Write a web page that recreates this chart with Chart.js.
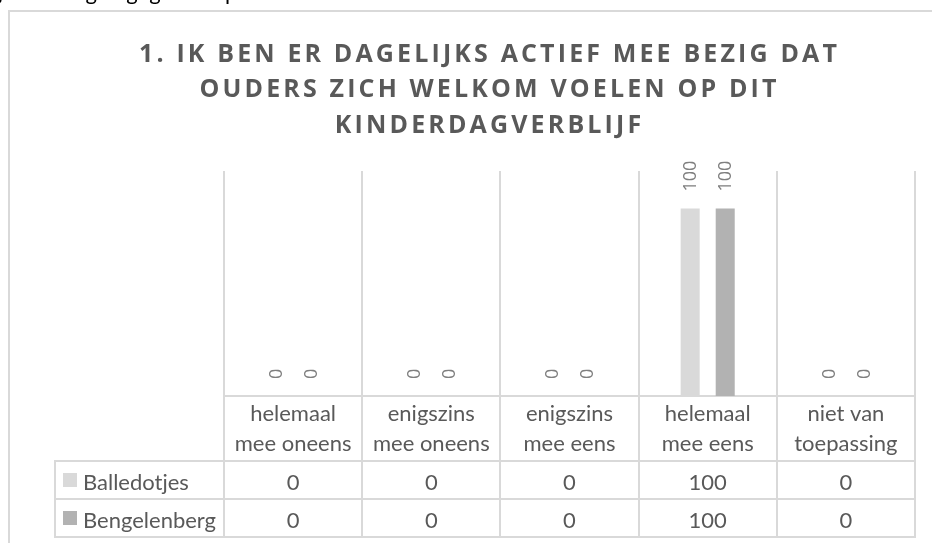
<!DOCTYPE html>
<html>
<head>
<meta charset="utf-8">
<script src="https://cdn.jsdelivr.net/npm/chart.js@4.4.1/dist/chart.umd.min.js"></script>
<style>
  html, body { margin: 0; padding: 0; background: #fff; overflow: hidden; }
  #wrap { position: relative; width: 932px; height: 543px; }
</style>
</head>
<body>
<div id="wrap"><canvas id="chart" width="932" height="543"></canvas></div>
<script>
// chart data
const titleLines = [
    '1. IK BEN ER DAGELIJKS ACTIEF MEE BEZIG DAT',
    'OUDERS ZICH WELKOM VOELEN OP DIT',
    'KINDERDAGVERBLIJF'
];
const categories = [
    ['helemaal', 'mee oneens'],
    ['enigszins', 'mee oneens'],
    ['enigszins', 'mee eens'],
    ['helemaal', 'mee eens'],
    ['niet van', 'toepassing']
];
const seriesNames = ['Balledotjes', 'Bengelenberg'];
const balledotjes = [0, 0, 0, 100, 0];
const bengelenberg = [0, 0, 0, 100, 0];
const seriesColors = ['#d9d9d9', '#b2b2b2'];
const yMax = 120;

const textColor = '#595959';
const lineColor = '#d9d9d9';

const excelTable = {
    id: 'excelTable',
    beforeDraw(chart) {
        const ctx = chart.ctx;
        ctx.save();
        // clipped line of document text above the chart
        ctx.fillStyle = '#000';
        ctx.font = '22px Lato';
        ctx.textBaseline = 'alphabetic';
        ctx.fillText('volgende vragen gegeven op', -38, 0);
        // outer frame of the chart object
        ctx.fillStyle = lineColor;
        ctx.fillRect(8, 10, 2, 600);
        ctx.fillRect(8, 10, 1000, 2);
        // title, spaced out like the office chart style
        ctx.fillStyle = textColor;
        ctx.font = 'bold 25px "Open Sans"';
        const plain = ctx.measureText(titleLines[0]).width;
        const spacing = (701 - plain) / titleLines[0].length;
        ctx.letterSpacing = spacing.toFixed(2) + 'px';
        ctx.textAlign = 'left';
        const baselines = [62, 97, 133];
        titleLines.forEach((line, i) => {
            const w = ctx.measureText(line).width - spacing;
            ctx.fillText(line, 488 - w / 2, baselines[i]);
        });
        ctx.restore();
    },
    afterDatasetsDraw(chart) {
        const ctx = chart.ctx;
        ctx.save();
        ctx.fillStyle = '#7f7f7f';
        ctx.font = '18px "Open Sans"';
        ctx.textAlign = 'left';
        ctx.textBaseline = 'middle';
        chart.data.datasets.forEach((ds, d) => {
            const meta = chart.getDatasetMeta(d);
            meta.data.forEach((bar, i) => {
                ctx.save();
                ctx.translate(bar.x, bar.y - 17);
                ctx.rotate(-Math.PI / 2);
                ctx.fillText(String(ds.data[i]), 0, 1);
                ctx.restore();
            });
        });
        ctx.restore();
    },
    afterDraw(chart) {
        const ctx = chart.ctx;
        const xs = chart.scales.x;
        const area = chart.chartArea;
        const half = (xs.getPixelForValue(1) - xs.getPixelForValue(0)) / 2;
        const bounds = categories.map((c, i) => xs.getPixelForValue(i) - half);
        bounds.push(xs.getPixelForValue(categories.length - 1) + half);

        const top = area.bottom;
        const headerH = 65;
        const rowH = 38;
        const labelLeft = 55;
        const bottom = top + headerH + rowH * seriesNames.length;

        ctx.save();
        ctx.fillStyle = lineColor;
        // vertical borders through the table
        bounds.forEach(x => ctx.fillRect(Math.round(x) - 1, top, 2, bottom - top + 1));
        ctx.fillRect(labelLeft - 1, top + headerH, 2, bottom - top - headerH + 1);
        // horizontal borders
        for (let r = 0; r <= seriesNames.length; r++) {
            const y = top + headerH + r * rowH;
            ctx.fillRect(labelLeft - 1, y - 1, bounds[bounds.length - 1] - labelLeft + 2, 2);
        }

        // category header
        ctx.fillStyle = textColor;
        ctx.font = '22px Lato';
        ctx.textAlign = 'center';
        ctx.textBaseline = 'alphabetic';
        categories.forEach((lines, i) => {
            const cx = xs.getPixelForValue(i);
            lines.forEach((t, k) => ctx.fillText(t, cx, top + 25 + k * 30));
        });

        // data rows
        const rows = [balledotjes, bengelenberg];
        rows.forEach((vals, r) => {
            const yBase = top + headerH + r * rowH + 29;
            ctx.textAlign = 'center';
            ctx.fillStyle = textColor;
            vals.forEach((v, i) => ctx.fillText(String(v), xs.getPixelForValue(i), yBase));
            // legend key + series name
            ctx.fillStyle = seriesColors[r];
            ctx.fillRect(63, top + headerH + r * rowH + 12, 14, 14);
            ctx.fillStyle = textColor;
            ctx.textAlign = 'left';
            ctx.fillText(seriesNames[r], 83, yBase);
        });
        ctx.restore();
    }
};

const ctx = document.getElementById('chart').getContext('2d');
new Chart(ctx, {
    type: 'bar',
    data: {
        labels: categories,
        datasets: [
            { label: seriesNames[0], data: balledotjes, backgroundColor: seriesColors[0] },
            { label: seriesNames[1], data: bengelenberg, backgroundColor: seriesColors[1] }
        ]
    },
    options: {
        responsive: false,
        animation: false,
        events: [],
        layout: { padding: { left: 224, right: 17, top: 171, bottom: 147 } },
        datasets: {
            bar: { categoryPercentage: 0.507, barPercentage: 0.543 }
        },
        plugins: {
            legend: { display: false },
            title: { display: false },
            tooltip: { enabled: false }
        },
        scales: {
            x: {
                offset: true,
                grid: { offset: true, color: lineColor, lineWidth: 2, drawTicks: false },
                border: { display: true, color: lineColor, width: 2 },
                ticks: { display: false }
            },
            y: {
                display: false,
                min: 0,
                max: yMax
            }
        }
    },
    plugins: [excelTable]
});
</script>
</body>
</html>
